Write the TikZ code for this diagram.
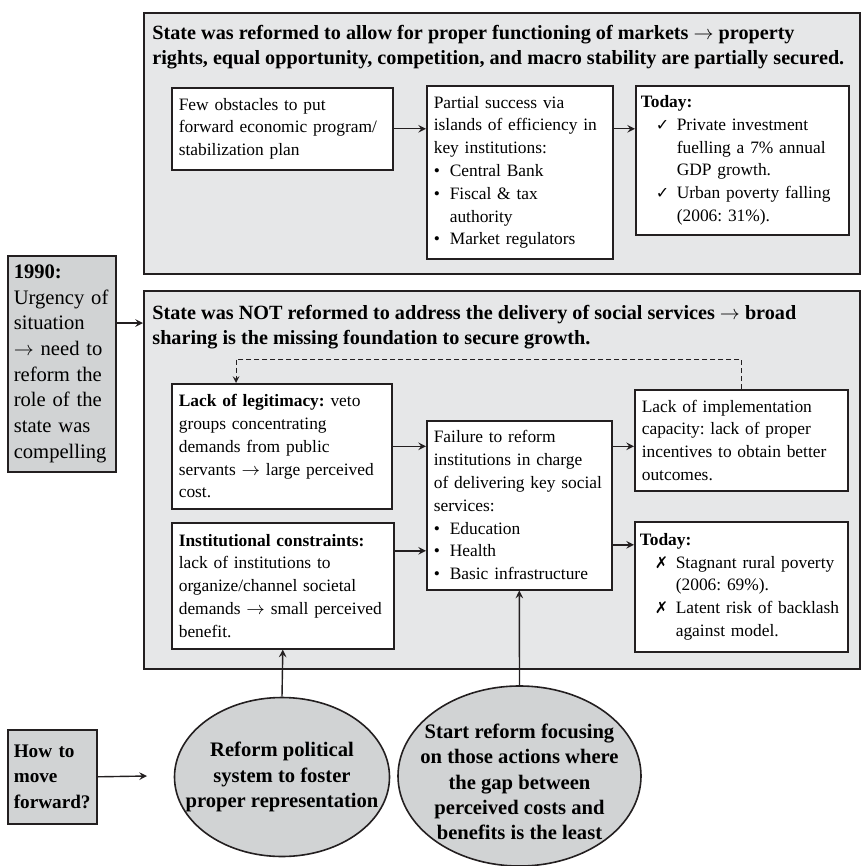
\documentclass[tikz,border=0pt]{standalone}
\usepackage{fontspec}
\setmainfont{Liberation Serif}
\newfontfamily\symfont{DejaVu Sans}
\usetikzlibrary{shapes.geometric}
\definecolor{panelgray}{HTML}{E6E7E8}
\definecolor{bubblegray}{HTML}{D1D3D4}
\definecolor{inkgray}{HTML}{231F20}
\hyphenpenalty=10000
\exhyphenpenalty=10000
\frenchspacing
\newcommand{\bul}{\makebox[8pt][l]{\textbullet}}
\newcommand{\bulind}{\hspace*{8pt}}
\newcommand{\chk}{\hspace*{7.5pt}\makebox[10.5pt][l]{\symfont\footnotesize ✓}}
\newcommand{\crs}{\hspace*{7.5pt}\makebox[10.5pt][l]{\symfont\footnotesize ✗}}
\newcommand{\chkind}{\hspace*{18pt}}
\begin{document}
\begin{tikzpicture}[x=0.5pt,y=-0.5pt,>=stealth,
            panel/.style={draw=inkgray,line width=0.8pt,fill=panelgray,anchor=north west,inner sep=0pt},
            box/.style={draw=inkgray,line width=0.8pt,fill=white,anchor=north west,align=left,inner sep=3.5pt,font=\fontsize{8.7}{11.4}\selectfont},
            greybox/.style={draw=inkgray,line width=0.8pt,fill=bubblegray,anchor=north west,align=left,inner sep=3pt},
            headline/.style={anchor=north west,align=left,inner sep=0pt,font=\bfseries\fontsize{10.1}{12.5}\selectfont},
            bubble/.style={ellipse,draw=inkgray,line width=0.8pt,fill=bubblegray,inner sep=0pt},
            bubbletext/.style={align=center,font=\bfseries\fontsize{10.3}{12.6}\selectfont},
            link/.style={->,line width=0.7pt,draw=inkgray}]
            \useasboundingbox (0,0) rectangle (861,866);
            \node[panel,minimum width=358pt,minimum height=130.5pt] (reformed) at (143,12) {};
            \node[headline] (reftitle) at (152,25) {State was reformed to allow for proper functioning of markets $\rightarrow$ property\\rights, equal opportunity, competition, and macro stability are partially secured.};
            \node[box,text width=103.5pt,minimum height=41pt] (few) at (171,87) {Few obstacles to put\\forward economic program/\\stabilization plan};
            \node[box,text width=86pt,minimum height=86.5pt] (partial) at (426,85) {Partial success via\\islands of efficiency in\\key institutions:\\\bul Central Bank\\\bul Fiscal \& tax\\\bulind authority\\\bul Market regulators};
            \node[box,inner xsep=2.5pt,text width=101.5pt,minimum height=74.5pt] (today1) at (635,85) {\textbf{Today:}\\\chk Private investment\\\chkind fuelling a 7\% annual\\\chkind GDP growth.\\\chk Urban poverty falling\\\chkind (2006: 31\%).};
            \node[panel,minimum width=358pt,minimum height=189pt] (notref) at (143,290) {};
            \node[headline] (nottitle) at (152,305) {State was NOT reformed to address the delivery of social services $\rightarrow$ broad\\sharing is the missing foundation to secure growth.};
            \node[box,text width=103pt,minimum height=62.5pt] (legit) at (171,383) {\textbf{Lack of legitimacy:} veto\\groups concentrating\\demands from public\\servants $\rightarrow$ large perceived\\cost.};
            \node[box,text width=104pt,minimum height=63pt] (inst) at (171,522) {\textbf{Institutional constraints:}\\lack of institutions to\\organize/channel societal\\demands $\rightarrow$ small perceived\\benefit.};
            \node[box,text width=85.5pt,minimum height=84.5pt] (fail) at (426,420) {Failure to reform\\institutions in charge\\of delivering key social\\services:\\\bul Education\\\bul Health\\\bul Basic infrastructure};
            \node[box,text width=99.5pt,minimum height=50.5pt] (impl) at (634,389) {Lack of implementation\\capacity: lack of proper\\incentives to obtain better\\outcomes.};
            \node[box,inner xsep=2.5pt,text width=101.5pt,minimum height=65pt] (today2) at (634,521) {\textbf{Today:}\\\crs Stagnant rural poverty\\\chkind (2006: 69\%).\\\crs Latent risk of backlash\\\chkind against model.};
            \node[greybox,text width=48pt,minimum height=108pt,font=\fontsize{10.3}{12.85}\selectfont] (year) at (7,255) {\textbf{1990:}\\Urgency of\\situation\\$\rightarrow$ need to\\reform the\\role of the\\state was\\compelling};
            \node[greybox,text width=38.5pt,minimum height=47pt,font=\bfseries\fontsize{9.6}{12.7}\selectfont] (move) at (7,729) {How to\\move\\forward?};
            \node[bubble,minimum width=107.5pt,minimum height=79.5pt,label={[bubbletext]center:Reform political\\system to foster\\proper representation}] (pol) at (282,777) {};
            \node[bubble,minimum width=121.5pt,minimum height=90pt,label={[bubbletext,yshift=-3pt]center:Start reform focusing\\on those actions where\\the gap between\\perceived costs and\\benefits is the least}] (gap) at (519.5,776) {};
            \coordinate (yeararrow) at (0,323);
            \coordinate (loop) at (236,359);
            \coordinate (moveend) at (147,776);
            \draw[link] (few.east) -- (few.east -| partial.west);
            \draw[link] (partial.east |- few.east) -- (today1.west |- few.east);
            \draw[link] (year.east |- yeararrow) -- (notref.west |- yeararrow);
            \draw[link] (legit.east) -- (legit.east -| fail.west);
            \draw[link] ([yshift=17.5pt]inst.east) -- ([yshift=17.5pt]inst.east -| fail.west);
            \draw[link] (fail.east |- legit.east) -- (impl.west |- legit.east);
            \draw[link] ([yshift=21pt]today2.west -| fail.east) -- ([yshift=21pt]today2.west);
            \draw[link,line width=0.5pt,dash pattern=on 2.5pt off 1.5pt] (impl.north) |- (loop) -- (loop |- legit.north);
            \draw[link] (pol.north) -- (inst.south);
            \draw[link] (gap.north) -- (fail.south);
            \draw[link] (move.east) -- (moveend);
        \end{tikzpicture}
\end{document}
